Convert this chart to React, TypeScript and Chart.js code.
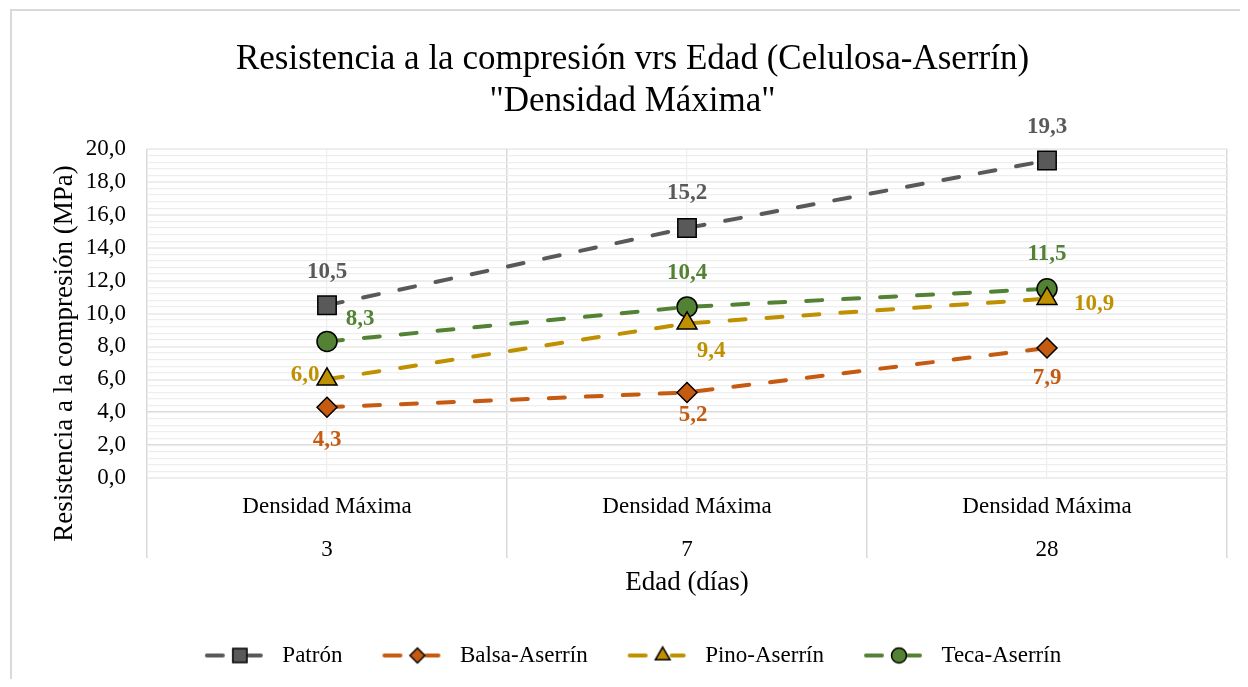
import React, { useEffect, useRef } from 'react';
import { Chart, registerables } from 'chart.js';
import { drawPoint } from 'chart.js/helpers';

Chart.register(...registerables);

// ---------- data ----------
const categories = [
  ['Densidad Máxima', '3'],
  ['Densidad Máxima', '7'],
  ['Densidad Máxima', '28'],
];
const seriesNames = ['Patrón', 'Balsa-Aserrín', 'Pino-Aserrín', 'Teca-Aserrín'];
const patron = [10.5, 15.2, 19.3];
const balsa = [4.3, 5.2, 7.9];
const pino = [6.0, 9.4, 10.9];
const teca = [8.3, 10.4, 11.5];
const seriesValues = [patron, balsa, pino, teca];

const yMin = 0;
const yMax = 20;
const yMajorStep = 2;
const yMinorStep = 0.4;

const chartTitle = ['Resistencia a la compresión vrs Edad (Celulosa-Aserrín)', '"Densidad Máxima"'];
const yTitle = 'Resistencia a la compresión (MPa)';
const xTitle = 'Edad (días)';

// ---------- styles ----------
const FONT = "'Times New Roman', 'Liberation Serif', serif";
const colors = ['#595959', '#C55A11', '#BF9000', '#548235'];
const pointStyles = ['rect', 'rectRot', 'triangle', 'circle'];
const pointRadii = [13, 10, 11.5, 10];
const legendRadii = [10, 7.5, 8.5, 7.5];
const CAT_TICK_LEN = 80;
// data-label offsets (px) from each point, per series
const labelOffsets = [
  [[0, -33], [0, -35], [0, -33]],
  [[0, 33], [6, 23], [0, 30]],
  [[-22, -4], [24, 28], [47, 5]],
  [[33, -22], [0, -34], [0, -35]],
];

const fmt = (v: number) => v.toFixed(1).replace('.', ',');

function makeIcon(color: string, style: string, radius: number) {
  const c = document.createElement('canvas');
  c.width = 67;
  c.height = 24;
  const g = c.getContext('2d') as CanvasRenderingContext2D;
  g.strokeStyle = color;
  g.lineWidth = 4;
  g.lineCap = 'round';
  g.beginPath();
  g.moveTo(3, 12);
  g.lineTo(19, 12);
  g.moveTo(45, 12);
  g.lineTo(57, 12);
  g.stroke();
  g.fillStyle = color;
  g.strokeStyle = '#000';
  g.lineWidth = 1.5;
  drawPoint(g, { pointStyle: style, rotation: 0, radius, borderWidth: 1.5 } as any, 36, 12);
  return c;
}

const bgPlugin = {
  id: 'bgBorder',
  beforeDraw(chart: any) {
    const ctx = chart.ctx;
    ctx.save();
    ctx.fillStyle = '#fff';
    ctx.fillRect(0, 0, chart.width, chart.height);
    ctx.strokeStyle = '#D9D9D9';
    ctx.lineWidth = 2;
    ctx.strokeRect(3, 2, chart.width - 5, chart.height + 20);
    ctx.restore();
  },
};

// y-axis title, centred on the plot plus the category band (as in the source)
const yTitlePlugin = {
  id: 'yTitle',
  afterDraw(chart: any) {
    const ctx = chart.ctx;
    const top = chart.chartArea.top;
    const bottom = chart.chartArea.bottom + CAT_TICK_LEN;
    ctx.save();
    ctx.translate(57, (top + bottom) / 2);
    ctx.rotate(-Math.PI / 2);
    ctx.font = `27px ${FONT}`;
    ctx.fillStyle = '#000';
    ctx.textAlign = 'center';
    ctx.textBaseline = 'middle';
    ctx.fillText(yTitle, 0, 0);
    ctx.restore();
  },
};

const labelPlugin = {
  id: 'pointLabels',
  afterDatasetsDraw(chart: any) {
    const ctx = chart.ctx;
    ctx.save();
    ctx.font = `bold 23px ${FONT}`;
    ctx.textAlign = 'center';
    ctx.textBaseline = 'middle';
    chart.data.datasets.forEach((ds: any, i: number) => {
      const meta = chart.getDatasetMeta(i);
      meta.data.forEach((el: any, j: number) => {
        const [dx, dy] = labelOffsets[i][j];
        ctx.fillStyle = colors[i];
        ctx.fillText(fmt(ds.data[j]), el.x + dx, el.y + dy);
      });
    });
    ctx.restore();
  },
};

export default function App() {
  const ref = useRef<HTMLCanvasElement>(null);

  useEffect(() => {
    if (!ref.current) return;
    const icons = seriesNames.map((_, i) => makeIcon(colors[i], pointStyles[i], legendRadii[i]));

    const chart = new Chart(ref.current, {
      type: 'line',
      data: {
        labels: categories,
        datasets: seriesNames.map((name, i) => ({
          label: name,
          data: seriesValues[i],
          xAxisID: 'x',
          yAxisID: 'y',
          borderColor: colors[i],
          backgroundColor: colors[i],
          borderWidth: 4,
          borderDash: [16, 21],
          borderCapStyle: 'round',
          tension: 0,
          fill: false,
          pointStyle: pointStyles[i],
          pointRadius: pointRadii[i],
          pointHoverRadius: pointRadii[i],
          pointBackgroundColor: colors[i],
          pointBorderColor: '#000',
          pointBorderWidth: 1.5,
        })),
      },
      options: {
        responsive: false,
        animation: false,
        devicePixelRatio: 1,
        layout: { padding: { left: 30, right: 41, top: 0, bottom: 51 } },
        plugins: {
          tooltip: { enabled: false },
          title: {
            display: true,
            text: chartTitle,
            color: '#000',
            font: { family: FONT, size: 35, weight: 'normal', lineHeight: 1.2 },
            padding: { top: 31, bottom: 26 },
          },
          legend: {
            display: true,
            position: 'bottom',
            labels: {
              usePointStyle: true,
              pointStyleWidth: 67,
              padding: 39,
              color: '#000',
              font: { family: FONT, size: 23 },
              generateLabels: (c: any) => {
                const items = Chart.defaults.plugins.legend.labels.generateLabels(c);
                return items.map((it: any, i: number) => ({ ...it, pointStyle: icons[i] }));
              },
            },
          },
        },
        scales: {
          x: {
            type: 'category',
            position: 'bottom',
            offset: true,
            grid: {
              offset: true,
              color: '#D9D9D9',
              lineWidth: 1.5,
              drawTicks: true,
              tickLength: CAT_TICK_LEN,
              tickColor: '#D9D9D9',
            },
            border: { display: false },
            ticks: {
              color: '#000',
              font: { family: FONT, size: 23, lineHeight: '43px' },
              padding: -72.5,
              maxRotation: 0,
              autoSkip: false,
            },
            title: {
              display: true,
              text: xTitle,
              color: '#000',
              font: { family: FONT, size: 27, lineHeight: 1.2 },
              padding: { top: 0, bottom: 6 },
            },
            afterFit: (s: any) => {
              s.height = 127;
            },
          },
          xMinor: {
            type: 'category',
            position: 'bottom',
            offset: true,
            z: -1,
            grid: { offset: false, color: '#EDEDED', lineWidth: 1.2, drawTicks: false },
            border: { display: false },
            ticks: { display: false },
            afterFit: (s: any) => {
              s.height = 0;
            },
          },
          y: {
            type: 'linear',
            position: 'left',
            min: yMin,
            max: yMax,
            grid: { color: '#D9D9D9', lineWidth: 1.5, drawTicks: false },
            border: { display: false },
            ticks: {
              stepSize: yMajorStep,
              padding: 21,
              color: '#000',
              font: { family: FONT, size: 23 },
              callback: (v: any) => fmt(Number(v)),
            },
            title: { display: false },
            afterFit: (s: any) => {
              s.width = 109;
            },
          },
          yMinor: {
            type: 'linear',
            position: 'left',
            min: yMin,
            max: yMax,
            z: -1,
            grid: { color: '#EEEEEE', lineWidth: 1.2, drawTicks: false },
            border: { display: false },
            ticks: { display: false, stepSize: yMinorStep, maxTicksLimit: 60 },
            afterFit: (s: any) => {
              s.width = 0;
            },
          },
        },
      } as any,
      plugins: [bgPlugin, labelPlugin, yTitlePlugin],
    });

    return () => chart.destroy();
  }, []);

  return (
    <div style={{ width: 1232, height: 671, overflow: 'hidden', background: '#fff' }}>
      <canvas ref={ref} width={1260} height={720} style={{ display: 'block', width: 1260, height: 720 }} />
    </div>
  );
}
